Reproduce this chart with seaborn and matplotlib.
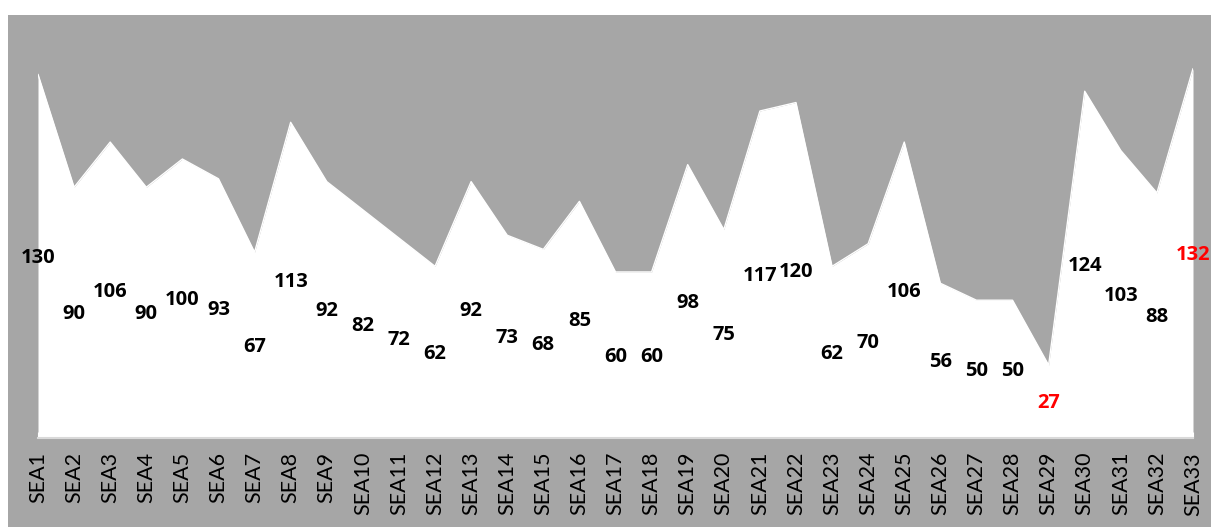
import matplotlib.pyplot as plt
import numpy as np
import pandas as pd
import seaborn as sns
from matplotlib.patches import Rectangle


CATEGORIES = [f"SEA{i}" for i in range(1, 34)]
VALUES = [130, 90, 106, 90, 100, 93, 67, 113, 92, 82, 72, 62, 92, 73, 68, 85,
          60, 60, 98, 75, 117, 120, 62, 70, 106, 56, 50, 50, 27, 124, 103, 88, 132]
GRAY = "#a6a6a6"
W, H = 1211, 527


def main() -> None:
    sns.set_style("white")
    plt.rcParams["font.family"] = ["Lato", "DejaVu Sans"]

    df = pd.DataFrame({"category": CATEGORIES, "value": VALUES})
    df["pos"] = np.arange(len(df))

    fig = plt.figure(figsize=(W / 100, H / 100), dpi=100)
    fig.patch.set_facecolor("white")
    fig.add_artist(Rectangle((8 / W, 0), 1 - 8 / W, (H - 15) / H,
                             transform=fig.transFigure, facecolor=GRAY,
                             edgecolor="none", zorder=0))

    ax = fig.add_axes([38 / W, (H - 438) / H, (1193 - 38) / W, (438 - 15) / H])
    ax.set_facecolor(GRAY)

    ax.fill_between(df["pos"], 0, df["value"], color="white", linewidth=0, zorder=2)
    sns.lineplot(data=df, x="pos", y="value", color="white", linewidth=1, ax=ax, zorder=3)

    # data labels sit on a half-height scale, like a hidden secondary series
    lo, hi = df["value"].min(), df["value"].max()
    for _, row in df.iterrows():
        color = "red" if row["value"] in (lo, hi) else "black"
        ax.text(row["pos"], row["value"] / 2, f"{row['value']}", ha="center", va="center",
                fontsize=14.5, fontweight="bold", family=["Open Sans", "DejaVu Sans"],
                color=color, zorder=4, clip_on=False)

    ax.set_xlim(0, len(df) - 1)
    ax.set_ylim(1.2, 151)
    ax.set_xticks(df["pos"])
    ax.set_xticklabels(df["category"], rotation=90, fontsize=15.5, color="black")
    ax.set_yticks([])
    ax.set_xlabel("")
    ax.set_ylabel("")
    ax.tick_params(axis="x", direction="in", length=4, color="white", pad=10, bottom=True)
    for side in ("top", "left", "right"):
        ax.spines[side].set_visible(False)
    ax.spines["bottom"].set_color("#d9d9d9")
    ax.spines["bottom"].set_linewidth(1.5)
    ax.spines["bottom"].set_zorder(5)

    fig.savefig("out.png", dpi=100, facecolor=fig.get_facecolor())
    plt.close(fig)


if __name__ == "__main__":
    main()
